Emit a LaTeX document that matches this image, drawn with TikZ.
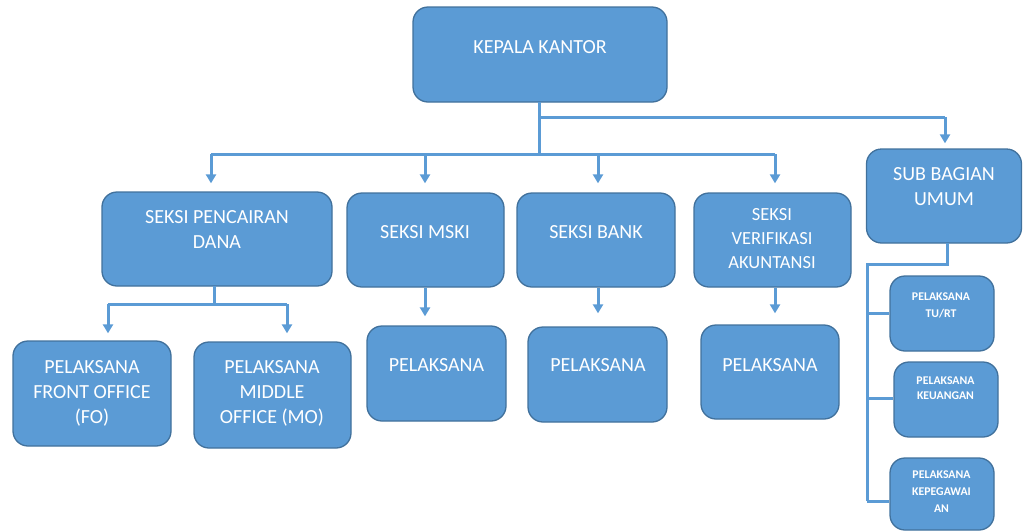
\documentclass[tikz,border=0pt]{standalone}
\usepackage{fontspec}
\setmainfont{Carlito}
\usetikzlibrary{arrows.meta}
\definecolor{boxfill}{HTML}{5B9BD5}
\definecolor{boxline}{HTML}{41719C}
\tikzset{
  orgbox/.style={draw=boxline, line width=1.3pt, fill=boxfill, rounded corners=15pt, inner sep=0pt},
  txt/.style={text=white, align=center, inner sep=0pt, font=\fontsize{20}{25}\selectfont},
  txtm/.style={text=white, align=center, inner sep=0pt, font=\fontsize{18.5}{24}\selectfont},
  txts/.style={text=white, align=center, inner sep=0pt, font=\bfseries\fontsize{11.8}{17}\selectfont},
  conn/.style={draw=boxfill, line width=3pt},
  arr/.style={conn, -{Triangle[width=10pt,length=9pt]}},
}
\begin{document}
\begin{tikzpicture}[x=1pt,y=-1pt]
\useasboundingbox (0,0) rectangle (1023,531);
% boxes
\node[orgbox, minimum width=254pt, minimum height=95pt] (kepala) at (540,54.5) {};
\node[orgbox, minimum width=230pt, minimum height=94pt] (pd) at (217,239) {};
\node[orgbox, minimum width=157pt, minimum height=94pt] (mski) at (425.5,240) {};
\node[orgbox, minimum width=158pt, minimum height=94pt] (bank) at (596,240) {};
\node[orgbox, minimum width=157pt, minimum height=94pt] (verif) at (772.5,240) {};
\node[orgbox, minimum width=155pt, minimum height=94pt] (sub) at (944,196) {};
\node[orgbox, minimum width=158pt, minimum height=105pt] (fo) at (92,393.5) {};
\node[orgbox, minimum width=157pt, minimum height=106pt] (mo) at (272.5,395) {};
\node[orgbox, minimum width=139pt, minimum height=95pt] (p1) at (436.5,373.5) {};
\node[orgbox, minimum width=139pt, minimum height=95pt] (p2) at (597.5,374.5) {};
\node[orgbox, minimum width=138pt, minimum height=94pt] (p3) at (770,372) {};
\node[orgbox, minimum width=104pt, minimum height=75pt] (tu) at (942,313.5) {};
\node[orgbox, minimum width=104pt, minimum height=75pt] (keu) at (946,399.5) {};
\node[orgbox, minimum width=104pt, minimum height=72pt] (kep) at (942,494) {};
% texts
\node[txt] (tkepala) at (540,47) {KEPALA KANTOR};
\node[txt] (tpd) at (217,229.5) {SEKSI PENCAIRAN\\DANA};
\node[txt] (tmski) at (425,232) {SEKSI MSKI};
\node[txt] (tbank) at (596,232) {SEKSI BANK};
\node[txtm] (tverif) at (772,239) {SEKSI\\VERIFIKASI\\AKUNTANSI};
\node[txt] (tsub) at (944,187) {SUB BAGIAN\\UMUM};
\node[txt] (tfo) at (92,393) {PELAKSANA\\FRONT OFFICE\\(FO)};
\node[txt] (tmo) at (272,393) {PELAKSANA\\MIDDLE\\OFFICE (MO)};
\node[txt] (tp1) at (436.5,365) {PELAKSANA};
\node[txt] (tp2) at (598,365) {PELAKSANA};
\node[txt] (tp3) at (770,365) {PELAKSANA};
\node[txts] (ttu) at (941,305.5) {PELAKSANA\\TU/RT};
\node[txts, font=\bfseries\fontsize{11.8}{15}\selectfont] (tkeu) at (945.5,388.5) {PELAKSANA\\KEUANGAN};
\node[txts] (tkep) at (941.5,492) {PELAKSANA\\KEPEGAWAI\\AN};
% junction coordinates
\coordinate (k0) at (539,102);
\coordinate (k1) at (539,117);
\coordinate (k2) at (539,154);
\coordinate (hA) at (211,154);
\coordinate (hB) at (425,154);
\coordinate (hC) at (598,154);
\coordinate (hD) at (775,154);
\coordinate (hS) at (945,117);
\coordinate (d0) at (214,286);
\coordinate (d1) at (214,304);
\coordinate (dA) at (108,304);
\coordinate (dB) at (287,304);
\coordinate (s0) at (947,243);
\coordinate (s1) at (947,264);
\coordinate (s2) at (867,264);
\coordinate (sT) at (867,313);
\coordinate (sK) at (867,398);
\coordinate (sP) at (867,501);
% connectors
\draw[conn] (k0) -- (k2);
\draw[conn] (hA) -- (hD);
\draw[conn] (k1) -- (hS);
\draw[arr, shorten >=8pt] (hA) -- (hA |- pd.north);
\draw[arr, shorten >=9pt] (hB) -- (hB |- mski.north);
\draw[arr, shorten >=9pt] (hC) -- (hC |- bank.north);
\draw[arr, shorten >=9pt] (hD) -- (hD |- verif.north);
\draw[arr, shorten >=5pt] (hS) -- (hS |- sub.north);
\draw[conn] (d0) -- (d1);
\draw[conn] (dA) -- (dB);
\draw[arr, shorten >=7pt] (dA) -- (dA |- fo.north);
\draw[arr, shorten >=8pt] (dB) -- (dB |- mo.north);
\draw[arr, shorten >=9pt] (mski.south -| hB) -- (hB |- p1.north);
\draw[arr, shorten >=13pt] (bank.south -| hC) -- (hC |- p2.north);
\draw[arr, shorten >=11pt] (verif.south -| hD) -- (hD |- p3.north);
\draw[conn] (s0) -- (s1) -- (s2) -- (sP);
\draw[conn] (sT) -- (tu.west |- sT);
\draw[conn] (sK) -- (keu.west |- sK);
\draw[conn] (sP) -- (kep.west |- sP);
\end{tikzpicture}
\end{document}
